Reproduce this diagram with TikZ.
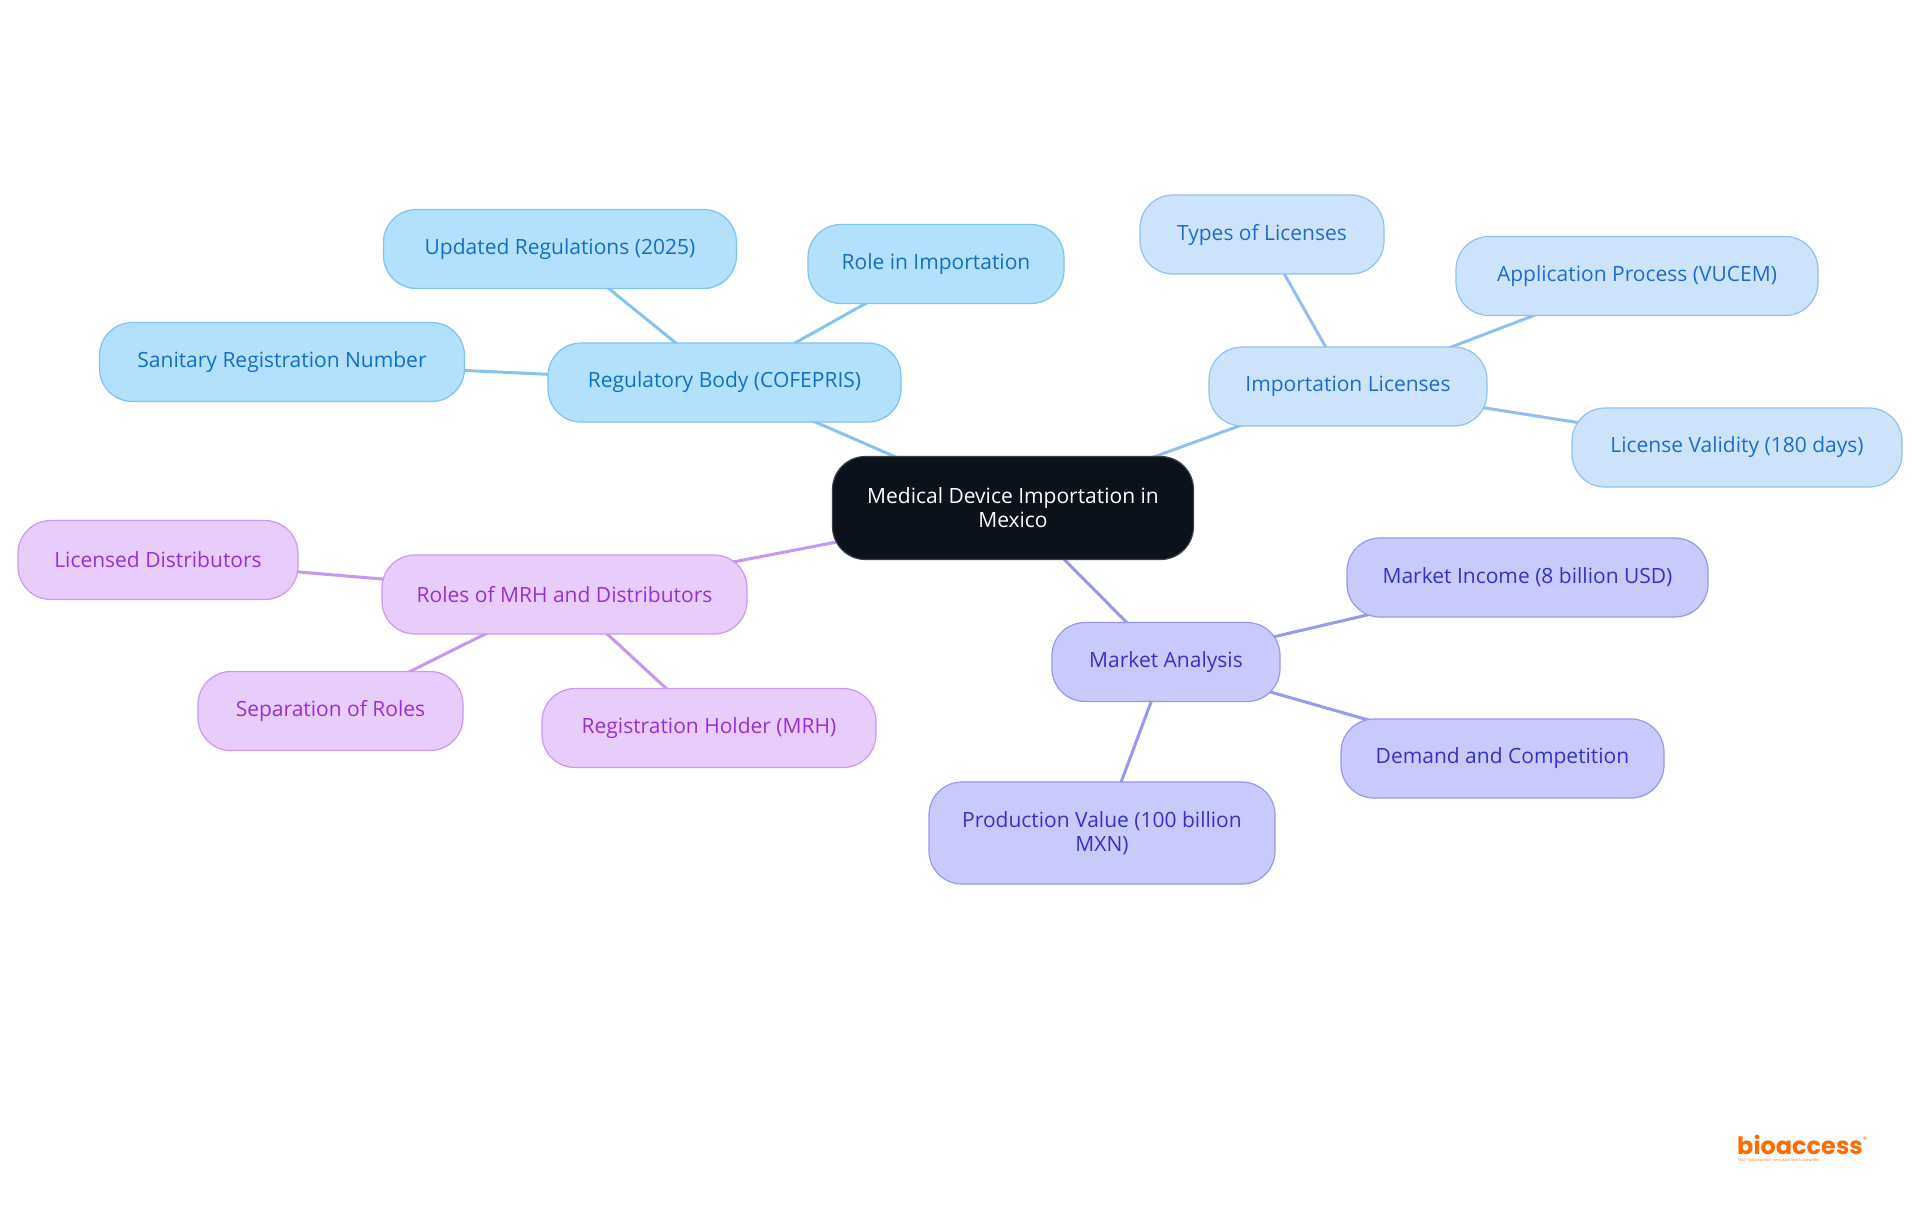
\documentclass[tikz,border=0pt]{standalone}
\usepackage{fontspec}
\setmainfont{Open Sans}
\newfontfamily\logofont{Poppins}
\usetikzlibrary{backgrounds}
\definecolor{mainfill}{HTML}{0B121C}
\definecolor{mainborder}{HTML}{3A4048}
\definecolor{regfill}{HTML}{B3E0FD}
\definecolor{regdraw}{HTML}{7EC3F2}
\definecolor{regtext}{HTML}{1070C4}
\definecolor{regline}{HTML}{86C4EF}
\definecolor{impfill}{HTML}{CDE3FB}
\definecolor{impdraw}{HTML}{94C0F0}
\definecolor{imptext}{HTML}{1F6BD0}
\definecolor{impline}{HTML}{93BFF0}
\definecolor{rolfill}{HTML}{E8CCFC}
\definecolor{roldraw}{HTML}{CB98EF}
\definecolor{roltext}{HTML}{9A2FD8}
\definecolor{rolline}{HTML}{C597F0}
\definecolor{mktfill}{HTML}{C8CAFC}
\definecolor{mktdraw}{HTML}{9698F0}
\definecolor{mkttext}{HTML}{3333C9}
\definecolor{mktline}{HTML}{9799EF}
\definecolor{logoorange}{HTML}{FF6B00}
\tikzset{
  box/.style={rounded corners=33pt, line width=1.2pt, inner sep=0pt, minimum height=79pt,
    align=center, font=\fontsize{21}{24}\selectfont},
  mainbox/.style={box, fill=mainfill, draw=mainborder, text=white, minimum height=103pt},
  regbox/.style={box, fill=regfill, draw=regdraw, text=regtext},
  impbox/.style={box, fill=impfill, draw=impdraw, text=imptext},
  rolbox/.style={box, fill=rolfill, draw=roldraw, text=roltext},
  mktbox/.style={box, fill=mktfill, draw=mktdraw, text=mkttext},
  edge/.style={line width=3pt},
}
\begin{document}
\begin{tikzpicture}[x=1pt,y=-1pt]
\useasboundingbox (0,0) rectangle (1920,1215);

\node[mainbox, minimum width=361pt] (main) at (1013,508) {Medical Device Importation in\\Mexico};

\node[regbox, minimum width=353pt] (reg) at (724.5,382.5) {Regulatory Body (COFEPRIS)};
\node[regbox, minimum width=353pt] (upd) at (560,249) {Updated Regulations (2025)};
\node[regbox, minimum width=256pt] (role) at (936,264) {Role in Importation};
\node[regbox, minimum width=365pt] (san) at (282,362) {Sanitary Registration Number};

\node[impbox, minimum width=278pt] (imp) at (1348,386.5) {Importation Licenses};
\node[impbox, minimum width=244pt] (types) at (1262,234.5) {Types of Licenses};
\node[impbox, minimum width=362pt] (app) at (1637,276) {Application Process (VUCEM)};
\node[impbox, minimum width=330pt] (val) at (1737,447.5) {License Validity (180 days)};

\node[rolbox, minimum width=365pt] (rol) at (564.5,594.5) {Roles of MRH and Distributors};
\node[rolbox, minimum width=280pt] (lic) at (158,560) {Licensed Distributors};
\node[rolbox, minimum width=265pt] (sep) at (330.5,711) {Separation of Roles};
\node[rolbox, minimum width=334pt] (mrh) at (709,728) {Registration Holder (MRH)};

\node[mktbox, minimum width=228pt] (mkt) at (1166,662) {Market Analysis};
\node[mktbox, minimum width=361pt] (inc) at (1527.5,577.5) {Market Income (8 billion USD)};
\node[mktbox, minimum width=323pt] (dem) at (1502.5,758.5) {Demand and Competition};
\node[mktbox, minimum width=346pt, minimum height=102pt] (prod) at (1102,833) {Production Value (100 billion\\MXN)};

\node[anchor=south west, inner sep=0pt, text=logoorange, font=\logofont\bfseries\fontsize{24}{24}\selectfont] (logo) at (1737,1155) {bioaccess};
\node[anchor=north west, inner sep=0pt, text=logoorange, font=\logofont\fontsize{8}{8}\selectfont] (regmark) at ([xshift=0pt,yshift=-1pt]logo.north east) {®};
\node[anchor=north west, inner sep=0pt, text=logoorange, font=\logofont\fontsize{3.2}{3.2}\selectfont] (tag) at (1738,1159) {FAST-TRACKING FIRST-IN-HUMAN TRIALS, ANYWHERE};

\begin{pgfonlayer}{background}
\fill[white] (0,0) rectangle (1920,1215);
\draw[edge, regline] (main.center) -- (reg.center);
\draw[edge, regline] (reg.center) -- (upd.center);
\draw[edge, regline] (reg.center) -- (role.center);
\draw[edge, regline] (reg.center) -- (san.center);
\draw[edge, impline] (main.center) -- (imp.center);
\draw[edge, impline] (imp.center) -- (types.center);
\draw[edge, impline] (imp.center) -- (app.center);
\draw[edge, impline] (imp.center) -- (val.center);
\draw[edge, rolline] (main.center) -- (rol.center);
\draw[edge, rolline] (rol.center) -- (lic.center);
\draw[edge, rolline] (rol.center) -- (sep.center);
\draw[edge, rolline] (rol.center) -- (mrh.center);
\draw[edge, mktline] (main.center) -- (mkt.center);
\draw[edge, mktline] (mkt.center) -- (inc.center);
\draw[edge, mktline] (mkt.center) -- (dem.center);
\draw[edge, mktline] (mkt.center) -- (prod.center);
\end{pgfonlayer}
\end{tikzpicture}
\end{document}
